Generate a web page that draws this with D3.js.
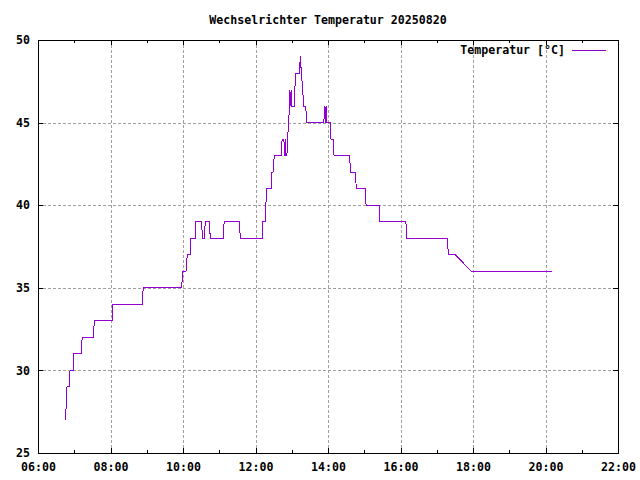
<!DOCTYPE html>
<html>
<head>
<meta charset="utf-8">
<script src="https://cdn.jsdelivr.net/npm/d3@7"></script>
<style>
  html, body { margin: 0; padding: 0; background: #fff; }
  svg { display: block; }
  text { font-family: "DejaVu Sans Mono", "Liberation Mono", monospace; font-weight: bold; font-size: 11.6px; fill: #000; }
</style>
</head>
<body>
<svg id="chart" width="640" height="480"></svg>
<script>
// ---- data ----
const title = "Wechselrichter Temperatur 20250820";
const seriesName = "Temperatur [°C]";
const xTickLabels = ["06:00","08:00","10:00","12:00","14:00","16:00","18:00","20:00","22:00"];
const xMinorTickLabels = ["07:00","09:00","11:00","13:00","15:00","17:00","19:00","21:00"];
const yTicks = [25, 30, 35, 40, 45, 50];
const times = [
  "06:45","06:47","06:48","06:52","06:53","06:58","06:59","07:12","07:13","07:32",
  "07:33","08:03","08:04","08:53","08:54","09:58","09:59","10:05","10:07","10:12",
  "10:13","10:20","10:21","10:31","10:32","10:35","10:37","10:44","10:45","11:07",
  "11:08","11:33","11:35","12:11","12:12","12:16","12:17","12:19","12:26","12:27",
  "12:29","12:31","12:43","12:44","12:47","12:48","12:49","12:50","12:52","12:53",
  "12:55","12:56","12:57","12:58","12:59","13:00","13:04","13:05","13:07","13:13",
  "13:14","13:16","13:18","13:20","13:23","13:25","13:53","13:55","13:56","13:57",
  "13:58","14:04","14:05","14:09","14:10","14:36","14:37","14:45","14:47","15:02",
  "15:03","15:25","15:26","16:09","16:10","17:18","17:19","17:31","17:57","20:10"
];
const temps = [
  27,28,29,29,30,30,31,31,32,32,
  33,33,34,34,35,35,36,36,37,37,
  38,38,39,39,38,38,39,39,38,38,
  39,39,38,38,39,39,40,41,41,42,
  42,43,43,44,44,43,44,43,43,44,
  45,46,47,46,47,46,46,47,48,48,
  49,48,47,46,46,45,45,46,45,46,
  45,45,44,44,43,43,42,42,41,41,
  40,40,39,39,38,38,37,37,36,36
];

// ---- helpers ----
const toHours = s => { const [h, m] = s.split(":").map(Number); return h + m / 60; };
const data = times.map((t, i) => ({ h: toHours(t), v: temps[i] }));

// ---- layout ----
const L = 38, R = 618, T = 40, B = 453;
const svg = d3.select("#chart");

const x = d3.scaleLinear()
  .domain([toHours(xTickLabels[0]), toHours(xTickLabels[xTickLabels.length - 1])])
  .range([L, R]);
const y = d3.scaleLinear().domain([yTicks[0], yTicks[yTicks.length - 1]]).range([B, T]);

const majorX = xTickLabels.map(toHours);
const minorX = xMinorTickLabels.map(toHours);
const fmt = h => { const i = majorX.indexOf(h); return i >= 0 ? xTickLabels[i] : ""; };

// grid
const grid = svg.append("g").attr("shape-rendering", "crispEdges")
  .attr("stroke", "#a0a0a0").attr("stroke-width", 1).attr("stroke-dasharray", "3,2");
grid.selectAll("line.gx").data(majorX.slice(1, -1)).join("line")
  .attr("x1", d => Math.round(x(d)) + 0.5).attr("x2", d => Math.round(x(d)) + 0.5)
  .attr("y1", T).attr("y2", B);
grid.selectAll("line.gy").data(yTicks.slice(1, -1)).join("line")
  .attr("y1", d => Math.round(y(d)) + 0.5).attr("y2", d => Math.round(y(d)) + 0.5)
  .attr("x1", L).attr("x2", R);

// axes (gnuplot style: inward ticks, mirrored)
function styleAxis(g) {
  g.attr("shape-rendering", "crispEdges");
  g.select(".domain").remove();
  g.selectAll(".tick line").attr("stroke", "#000");
  g.selectAll("text").attr("fill", "#000");
}
const xb = svg.append("g").attr("transform", `translate(0,${B})`)
  .call(d3.axisBottom(x).tickValues(majorX).tickFormat(fmt).tickSize(-5).tickPadding(10));
xb.attr("font-family", null).attr("font-size", null);
styleAxis(xb);
const xbm = svg.append("g").attr("transform", `translate(0,${B})`)
  .call(d3.axisBottom(x).tickValues(minorX).tickFormat("").tickSize(-3));
styleAxis(xbm);
const xt = svg.append("g").attr("transform", `translate(0,${T})`)
  .call(d3.axisTop(x).tickValues(majorX).tickFormat("").tickSize(-5));
styleAxis(xt);
const xtm = svg.append("g").attr("transform", `translate(0,${T})`)
  .call(d3.axisTop(x).tickValues(minorX).tickFormat("").tickSize(-3));
styleAxis(xtm);
const yl = svg.append("g").attr("transform", `translate(${L},0)`)
  .call(d3.axisLeft(y).tickValues(yTicks).tickFormat(d3.format("d")).tickSize(-5).tickPadding(8));
yl.attr("font-family", null).attr("font-size", null);
styleAxis(yl);
const yr = svg.append("g").attr("transform", `translate(${R},0)`)
  .call(d3.axisRight(y).tickValues(yTicks).tickFormat("").tickSize(-5));
styleAxis(yr);

// border
svg.append("rect").attr("x", L + 0.5).attr("y", T + 0.5)
  .attr("width", R - L).attr("height", B - T)
  .attr("fill", "none").attr("stroke", "#000").attr("stroke-width", 1)
  .attr("shape-rendering", "crispEdges");

// series line
const line = d3.line().x(d => x(d.h)).y(d => y(d.v));
svg.append("path").datum(data)
  .attr("d", line)
  .attr("fill", "none").attr("stroke", "#9400d3").attr("stroke-width", 1)
  .attr("shape-rendering", "crispEdges");

// title
svg.append("text").attr("x", (L + R) / 2).attr("y", 24).attr("text-anchor", "middle").text(title);

// legend
svg.append("text").attr("x", 565).attr("y", 54).attr("text-anchor", "end").text(seriesName);
svg.append("line").attr("x1", 572).attr("x2", 606).attr("y1", 50.5).attr("y2", 50.5)
  .attr("stroke", "#9400d3").attr("stroke-width", 1).attr("shape-rendering", "crispEdges");
</script>
</body>
</html>
